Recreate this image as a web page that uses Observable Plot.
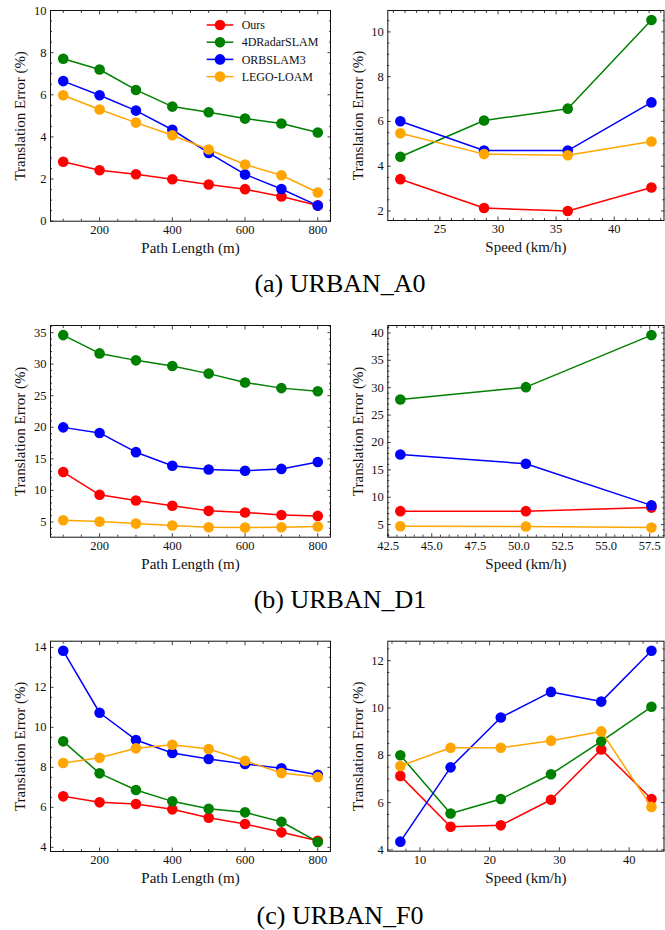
<!DOCTYPE html>
<html><head><meta charset="utf-8">
<script src="https://cdn.jsdelivr.net/npm/d3@7"></script>
<script src="https://cdn.jsdelivr.net/npm/@observablehq/plot@0.6"></script>
<style>
body{margin:0;background:#fff;}
#fig{position:relative;width:665px;height:930px;overflow:hidden;font-family:"Liberation Serif","Times New Roman",serif;background:#fff;}
.panel{position:absolute;}
.panel text{font-family:"Liberation Serif","Times New Roman",serif;}
.cap{position:absolute;left:0;width:680px;text-align:center;font-size:26px;line-height:26px;color:#000;white-space:nowrap;font-family:"Liberation Serif","Times New Roman",serif;}
</style></head><body><div id="fig"></div>
<script>
// ---- data ----
const methods = ["Ours", "4DRadarSLAM", "ORBSLAM3", "LEGO-LOAM"];
const colors = ["red", "green", "blue", "orange"];
const captions = ["(a) URBAN_A0", "(b) URBAN_D1", "(c) URBAN_F0"];
const pathLength = [100, 200, 300, 400, 500, 600, 700, 800];
const speedA0 = [21.6, 28.8, 36.0, 43.2];
const speedD1 = [43.2, 50.4, 57.6];
const speedF0 = [7.2, 14.4, 21.6, 28.8, 36.0, 43.2];

// URBAN_A0 vs path length
const a0PathOurs = [2.82, 2.42, 2.23, 1.99, 1.74, 1.52, 1.17, 0.75];
const a0Path4DRadar = [7.71, 7.20, 6.23, 5.44, 5.17, 4.87, 4.64, 4.21];
const a0PathORB = [6.65, 5.98, 5.25, 4.34, 3.24, 2.22, 1.53, 0.74];
const a0PathLEGO = [5.98, 5.30, 4.68, 4.08, 3.40, 2.69, 2.18, 1.36];
// URBAN_A0 vs speed
const a0SpeedOurs = [3.42, 2.13, 2.00, 3.05];
const a0Speed4DRadar = [4.42, 6.04, 6.57, 10.53];
const a0SpeedORB = [6.01, 4.70, 4.70, 6.85];
const a0SpeedLEGO = [5.47, 4.54, 4.49, 5.10];
// URBAN_D1 vs path length
const d1PathOurs = [12.9, 9.3, 8.4, 7.55, 6.75, 6.5, 6.1, 5.95];
const d1Path4DRadar = [34.6, 31.7, 30.6, 29.7, 28.5, 27.1, 26.2, 25.7];
const d1PathORB = [19.98, 19.1, 16.05, 13.9, 13.3, 13.1, 13.4, 14.5];
const d1PathLEGO = [5.27, 5.05, 4.73, 4.42, 4.15, 4.1, 4.15, 4.26];
// URBAN_D1 vs speed
const d1SpeedOurs = [7.45, 7.45, 8.1];
const d1Speed4DRadar = [27.85, 30.1, 39.6];
const d1SpeedORB = [17.8, 16.1, 8.5];
const d1SpeedLEGO = [4.7, 4.65, 4.45];
// URBAN_F0 vs path length
const f0PathOurs = [6.55, 6.25, 6.17, 5.9, 5.48, 5.17, 4.75, 4.33];
const f0Path4DRadar = [9.3, 7.7, 6.87, 6.3, 5.93, 5.75, 5.28, 4.27];
const f0PathORB = [13.83, 10.73, 9.37, 8.72, 8.42, 8.17, 7.95, 7.63];
const f0PathLEGO = [8.22, 8.48, 8.95, 9.13, 8.92, 8.33, 7.72, 7.52];
// URBAN_F0 vs speed
const f0SpeedOurs = [7.13, 4.98, 5.04, 6.12, 8.25, 6.15];
const f0Speed4DRadar = [8.0, 5.54, 6.15, 7.2, 8.59, 10.05];
const f0SpeedORB = [4.35, 7.49, 9.6, 10.68, 10.27, 12.42];
const f0SpeedLEGO = [7.55, 8.32, 8.32, 8.62, 9.01, 5.82];

const xLabelPath = "Path Length (m)";
const xLabelSpeed = "Speed (km/h)";
const yLabel = "Translation Error (%)";

// ---- helpers ----
const FONT = "'Liberation Serif','Times New Roman',serif";
const fig = document.getElementById("fig");
const pad = ([a, b]) => [a - 0.05 * (b - a), b + 0.05 * (b - a)];
const ticksIn = (lo, hi, step, majors) =>
  d3.range(Math.ceil(lo / step - 1e-9) * step, hi + 1e-9, step)
    .map(v => +v.toFixed(6))
    .filter(v => !majors.some(m => Math.abs(m - v) < 1e-6));

function panel(o) {
  const {left, top, width, height, ml, mr, mt, mb, xs, series, xDomain, yDomain,
         xMajorStep, xMinorStep, yMajorStep, yMinorStep, xFmt, xLabel} = o;
  const yDom = yDomain || pad(d3.extent(series.flat()));
  const xDom = xDomain || pad(d3.extent(xs));
  const xMajor = ticksIn(xDom[0], xDom[1], xMajorStep, []);
  const xMinor = ticksIn(xDom[0], xDom[1], xMinorStep, xMajor);
  const yMajor = ticksIn(yDom[0], yDom[1], yMajorStep, []);
  const yMinor = ticksIn(yDom[0], yDom[1], yMinorStep, yMajor);
  const marks = [];
  series.forEach((vals, i) => {
    const data = xs.map((x, j) => ({x, y: vals[j]}));
    marks.push(Plot.line(data, {x: "x", y: "y", stroke: colors[i], strokeWidth: 1.5}));
    marks.push(Plot.dot(data, {x: "x", y: "y", fill: colors[i], r: 5.3}));
  });
  const tk = {stroke: "#111", strokeWidth: 0.8, label: null};
  const none = () => "";
  marks.push(
    Plot.axisX({...tk, ticks: xMajor, anchor: "bottom", tickSize: -3.5, tickPadding: 7.5, tickFormat: xFmt || (d => String(d)), fontSize: 12.5, fontFamily: FONT}),
    Plot.axisX({...tk, ticks: xMinor, anchor: "bottom", tickSize: -2, tickFormat: none}),
    Plot.axisX({...tk, ticks: xMajor, anchor: "top", tickSize: -3.5, tickFormat: none}),
    Plot.axisX({...tk, ticks: xMinor, anchor: "top", tickSize: -2, tickFormat: none}),
    Plot.axisY({...tk, ticks: yMajor, anchor: "left", tickSize: -3.5, tickPadding: 7.5, tickFormat: d => String(d), fontSize: 12.5, fontFamily: FONT}),
    Plot.axisY({...tk, ticks: yMinor, anchor: "left", tickSize: -2, tickFormat: none}),
    Plot.axisY({...tk, ticks: yMajor, anchor: "right", tickSize: -3.5, tickFormat: none}),
    Plot.axisY({...tk, ticks: yMinor, anchor: "right", tickSize: -2, tickFormat: none}),
    Plot.frame({stroke: "#111", strokeWidth: 1}),
    Plot.text([xLabel], {frameAnchor: "bottom", textAnchor: "middle", lineAnchor: "middle", dy: 27, fontSize: 15, fontFamily: FONT, fill: "#111"}),
    Plot.text([yLabel], {frameAnchor: "left", textAnchor: "middle", lineAnchor: "middle", dx: -30, rotate: -90, fontSize: 15, fontFamily: FONT, fill: "#111"})
  );
  const svg = Plot.plot({
    width, height, marginLeft: ml, marginRight: mr, marginTop: mt, marginBottom: mb,
    x: {domain: xDom}, y: {domain: yDom},
    style: {fontFamily: FONT, fontSize: "12.5px", color: "#111", background: "transparent", overflow: "visible"},
    marks
  });
  svg.classList.add("panel");
  svg.style.left = left + "px";
  svg.style.top = top + "px";
  svg.style.position = "absolute";
  fig.appendChild(svg);
}

const L = {left: 0, width: 335, ml: 50, mr: 5};
const R = {left: 332, width: 333, ml: 55.3, mr: 1.5};
const pathTicks = {xDomain: [65, 835], xMajorStep: 200, xMinorStep: 50, xLabel: xLabelPath, xs: pathLength};

panel({...L, ...pathTicks, top: 0, height: 260, mt: 10, mb: 39.3,
  series: [a0PathOurs, a0Path4DRadar, a0PathORB, a0PathLEGO],
  yDomain: [0, 10], yMajorStep: 2, yMinorStep: 0.5});
panel({...R, top: 0, height: 260, mt: 10, mb: 40, xs: speedA0, xLabel: xLabelSpeed,
  series: [a0SpeedOurs, a0Speed4DRadar, a0SpeedORB, a0SpeedLEGO],
  xMajorStep: 5, xMinorStep: 1, yMajorStep: 2, yMinorStep: 0.5});
panel({...L, ...pathTicks, top: 310, height: 260, mt: 15, mb: 33.3,
  series: [d1PathOurs, d1Path4DRadar, d1PathORB, d1PathLEGO],
  yMajorStep: 5, yMinorStep: 1});
panel({...R, top: 310, height: 260, mt: 15, mb: 33.3, xs: speedD1, xLabel: xLabelSpeed,
  series: [d1SpeedOurs, d1Speed4DRadar, d1SpeedORB, d1SpeedLEGO],
  xMajorStep: 2.5, xMinorStep: 0.5, xFmt: d3.format(".1f"), yMajorStep: 5, yMinorStep: 1});
panel({...L, ...pathTicks, top: 620, height: 260, mt: 20.7, mb: 29,
  series: [f0PathOurs, f0Path4DRadar, f0PathORB, f0PathLEGO],
  yMajorStep: 2, yMinorStep: 0.5});
panel({...R, top: 620, height: 260, mt: 20.7, mb: 29.3, xs: speedF0, xLabel: xLabelSpeed,
  series: [f0SpeedOurs, f0Speed4DRadar, f0SpeedORB, f0SpeedLEGO],
  xMajorStep: 10, xMinorStep: 2, yMajorStep: 2, yMinorStep: 0.5});

// legend (top-left panel)
const lg = d3.select(fig).append("svg").attr("class", "panel")
  .style("position", "absolute").style("left", "200px").style("top", "14px")
  .attr("width", 135).attr("height", 74)
  .style("font-family", FONT);
methods.forEach((m, i) => {
  const y = 11 + i * 17.2;
  lg.append("line").attr("x1", 6.7).attr("x2", 33.3).attr("y1", y).attr("y2", y)
    .attr("stroke", colors[i]).attr("stroke-width", 1.5);
  lg.append("circle").attr("cx", 20).attr("cy", y).attr("r", 5.3).attr("fill", colors[i]);
  lg.append("text").attr("x", 41.7).attr("y", y).attr("dy", "0.35em")
    .attr("font-size", 12).attr("fill", "#111").text(m);
});

// captions
const capTops = [271.2, 587.2, 903.2];
captions.forEach((c, i) => {
  const d = document.createElement("div");
  d.className = "cap";
  d.style.top = capTops[i] + "px";
  d.textContent = c;
  fig.appendChild(d);
});
</script></body></html>
